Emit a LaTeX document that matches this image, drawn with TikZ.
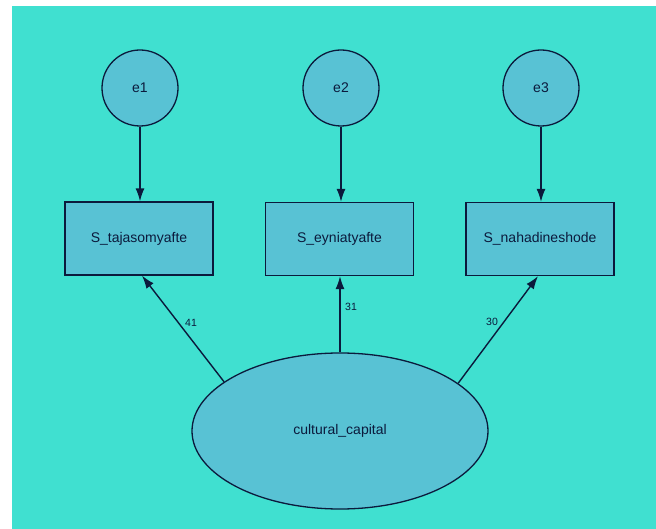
\documentclass[tikz,border=0pt]{standalone}
\usepackage{fontspec}
\setmainfont{Liberation Sans}
\usetikzlibrary{arrows.meta,shapes.geometric}
\definecolor{bgturq}{HTML}{40E0D0}
\definecolor{nodefill}{HTML}{58C2D4}
\definecolor{ink}{HTML}{0B1A3C}
\tikzset{
  errc/.style={circle,draw=ink,fill=nodefill,line width=1.3pt,minimum size=76pt,inner sep=0pt,text=ink,font=\fontsize{14}{16}\selectfont},
  obsbox/.style={rectangle,draw=ink,fill=nodefill,line width=1.3pt,minimum width=148pt,minimum height=73pt,inner sep=0pt,text=ink,font=\fontsize{14}{16}\selectfont},
  latent/.style={ellipse,draw=ink,fill=nodefill,line width=1.3pt,minimum width=296pt,minimum height=156pt,inner sep=0pt,text=ink,font=\fontsize{14}{16}\selectfont},
  arr/.style={draw=ink,line width=1.4pt,-{Latex[length=13pt,width=9pt]}},
  lbl/.style={text=ink,inner sep=0pt,font=\fontsize{10.5}{12}\selectfont}
}
\begin{document}
\begin{tikzpicture}[x=1pt,y=-1pt]
\useasboundingbox (0,0) rectangle (656,529);
\fill[bgturq] (12,6) rectangle (656,529);
\node[errc] (e1) at (140,88) {e1};
\node[errc] (e2) at (341,88) {e2};
\node[errc] (e3) at (541,88) {e3};
\node[obsbox] (s1) at (139,238.5) {S\_tajasomyafte};
\node[obsbox] (s2) at (339.5,239) {S\_eyniatyafte};
\node[obsbox] (s3) at (540,239) {S\_nahadineshode};
\node[latent] (cc) at (340,431) {cultural\_capital};
\draw[arr] (e1.south) -- (e1.south |- s1.north);
\draw[arr] (e2.south) -- (e2.south |- s2.north);
\draw[arr] (e3.south) -- (e3.south |- s3.north);
\draw[arr] (cc.157.5) -- ([xshift=3pt]s1.south);
\draw[arr] (cc.north) -- (cc.north |- s2.south);
\draw[arr] (cc.22.5) -- ([xshift=-2pt]s3.south);
\node[lbl] (l1) at (191,323) {41};
\node[lbl] (l2) at (351,307) {31};
\node[lbl] (l3) at (492,322) {30};
\end{tikzpicture}
\end{document}
